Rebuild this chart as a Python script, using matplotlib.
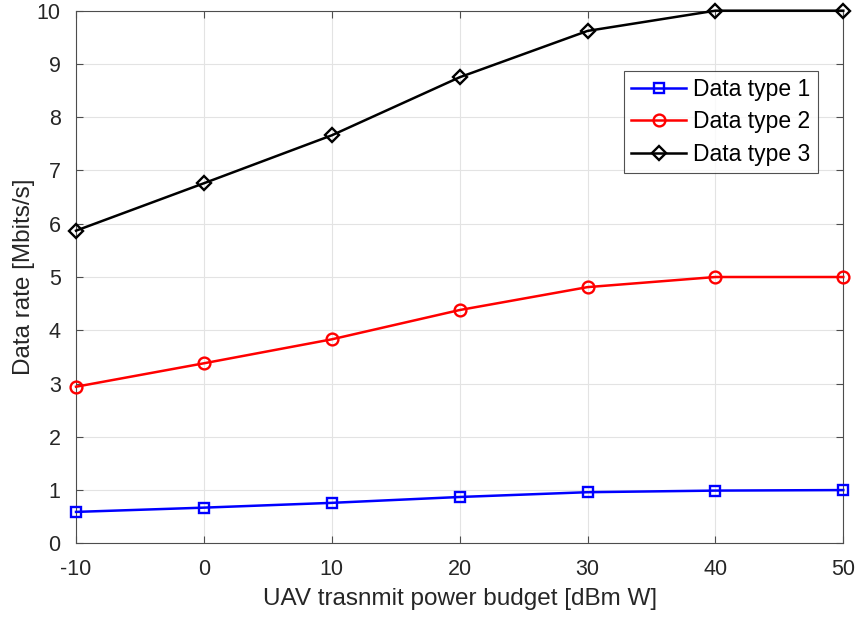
import numpy as np
import matplotlib
matplotlib.use("Agg")
import matplotlib.pyplot as plt

# transmit power budget (dBm W) and achieved rate per data type (Mbits/s)
power_budget = [-10, 0, 10, 20, 30, 40, 50]
rate_type1 = [0.59, 0.67, 0.76, 0.87, 0.96, 0.99, 1.0]
rate_type2 = [2.94, 3.38, 3.83, 4.38, 4.81, 5.0, 5.0]
rate_type3 = [5.87, 6.76, 7.66, 8.75, 9.62, 10.0, 10.0]

x_ticks = [-10, 0, 10, 20, 30, 40, 50]
y_ticks = list(range(0, 11))

plt.rcParams["font.family"] = ["Liberation Sans", "DejaVu Sans"]

fig = plt.figure(figsize=(8.59, 6.17), dpi=100)
ax = fig.add_axes([0.0885, 0.1194, 0.8932, 0.8633])

ax.plot(power_budget, rate_type1, color="#0000ff", lw=1.8, marker="s",
        ms=7, mfc="none", mew=1.7, label="Data type 1", clip_on=False, zorder=3)
ax.plot(power_budget, rate_type2, color="#ff0000", lw=1.8, marker="o",
        ms=8.5, mfc="none", mew=1.7, label="Data type 2", clip_on=False, zorder=3)
ax.plot(power_budget, rate_type3, color="black", lw=1.8, marker="D",
        ms=7, mfc="none", mew=1.7, label="Data type 3", clip_on=False, zorder=3)

ax.set_xlim(-10, 50)
ax.set_ylim(0, 10)
ax.set_xticks(x_ticks)
ax.set_yticks(y_ticks)
ax.set_xticklabels([str(v) for v in x_ticks])
ax.grid(True, color="#e3e3e3", lw=0.8)
ax.set_axisbelow(True)

for side in ax.spines.values():
    side.set_color("#4d4d4d")
    side.set_linewidth(0.8)
ax.tick_params(direction="in", length=5, width=0.8, color="#4d4d4d",
               top=True, right=True, labelsize=15.5, labelcolor="#262626")
ax.tick_params(axis="x", pad=11)
ax.tick_params(axis="y", pad=11)

ax.set_xlabel("UAV trasnmit power budget [dBm W]", fontsize=17.5, color="#262626", labelpad=6)
ax.set_ylabel("Data rate [Mbits/s]", fontsize=17.5, color="#262626", labelpad=1)

leg = ax.legend(loc="upper left", bbox_to_anchor=(0.714, 0.887), fontsize=16.5,
                frameon=True, fancybox=False, edgecolor="#262626",
                borderpad=0.32, handlelength=2.4, handletextpad=0.3,
                labelspacing=0.4, borderaxespad=0)
leg.get_frame().set_linewidth(0.8)

fig.savefig("out.png", dpi=100)
